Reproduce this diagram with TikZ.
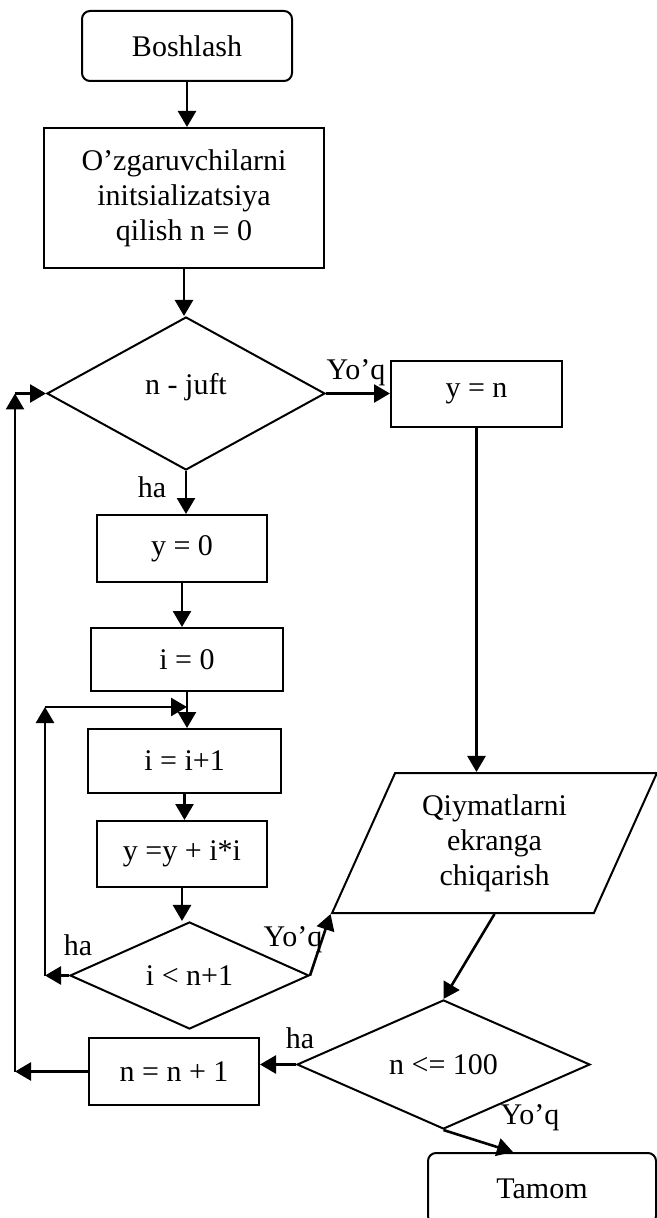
\documentclass[tikz,border=0pt]{standalone}
\usepackage{fontspec}
\setmainfont{Liberation Serif}
\usetikzlibrary{arrows.meta,positioning,calc,shapes.geometric}
\definecolor{FcInk}{RGB}{0,0,0}
\tikzset{
  fc/box/.style={
    draw=FcInk,
    line width=1pt,
    fill=white,
    align=center,
    text=FcInk,
    inner sep=0pt,
    font=\fontsize{15}{17.5}\selectfont
  },
  fc/term/.style={fc/box, rounded corners=4pt},
  fc/cond/.style={
    diamond,
    draw=FcInk,
    line width=1pt,
    fill=white,
    align=center,
    text=FcInk,
    inner sep=0pt,
    font=\fontsize{15}{17.5}\selectfont
  },
  fc/io/.style={
    trapezium,
    trapezium left angle=64.7,
    trapezium right angle=115.3,
    trapezium stretches=true,
    draw=FcInk,
    line width=1pt,
    fill=white,
    align=center,
    text=FcInk,
    inner sep=0pt,
    font=\fontsize{15}{17.5}\selectfont
  },
  fc/arrow/.style={-{Triangle[length=8pt,width=9pt]}, line width=1.3pt, draw=FcInk},
  fc/tinylabel/.style={font=\fontsize{15}{17.5}\selectfont, text=FcInk, inner sep=0pt}
}

\begin{document}
\begin{tikzpicture}[x=0.5pt,y=-0.5pt]
  \useasboundingbox (0,0) rectangle (657,1218);
  % left column
  \node[fc/term,minimum width=105pt,minimum height=35pt] (start) at (187,46) {Boshlash};
  \node[fc/box,minimum width=140pt,minimum height=70pt] (init) at (184,198) {O’zgaruvchilarni\\initsializatsiya\\qilish n = 0};
  \node[fc/cond,minimum width=139pt,minimum height=76.5pt] (even) at (186,393.5) {n - juft\\[-7.5pt]};
  \node[fc/box,minimum width=85pt,minimum height=33.5pt] (yzero) at (182,548.5) {y = 0};
  \node[fc/box,minimum width=96pt,minimum height=31.5pt] (izero) at (187,659.5) {i = 0};
  \node[fc/box,minimum width=96.5pt,minimum height=32pt] (iinc) at (184.5,761) {i = i+1};
  \node[fc/box,minimum width=85pt,minimum height=33pt] (ysum) at (182,854) {y =y + i*i};
  \node[fc/cond,minimum width=119.5pt,minimum height=47.5pt] (icheck) at (189.5,975.5) {i < n+1};
  \node[fc/box,minimum width=85pt,minimum height=33.5pt] (ninc) at (174,1071.5) {n = n + 1};
  % right column
  \node[fc/box,minimum width=85.5pt,minimum height=33pt] (ysetn) at (476.5,394) {y = n};
  \node[fc/io,minimum width=162.5pt,minimum height=70pt] (show) at (494.5,843) {Qiymatlarni\\ekranga\\chiqarish};
  \node[fc/cond,minimum width=146.5pt,minimum height=47.5pt] (ncheck) at (443.5,1064.5) {n <= 100};
  \node[fc/term,minimum width=114pt,minimum height=35.5pt] (finish) at (542,1188.5) {Tamom};

  \coordinate (outertop) at (15,393.5);
  \coordinate (outerbot) at (outertop |- ninc.west);
  \coordinate (innertop) at (45,707);
  \coordinate (innerbot) at (innertop |- icheck.west);
  \coordinate (innerjoin) at (izero.south |- innertop);

  \draw[fc/arrow] (start.south) -- (start.south |- init.north);
  \draw[fc/arrow] (init.south) -- (init.south |- even.north);
  \draw[fc/arrow] (even.east) -- (even.east -| ysetn.west);
  \draw[fc/arrow] (even.south) -- (even.south |- yzero.north);
  \draw[fc/arrow] (yzero.south) -- (yzero.south |- izero.north);
  \draw[fc/arrow] (izero.south) -- (izero.south |- iinc.north);
  \draw[fc/arrow] (iinc.south) -- (iinc.south |- ysum.north);
  \draw[fc/arrow] (ysum.south) -- (ysum.south |- icheck.north);
  \draw[fc/arrow] (icheck.west) -- (innerbot);
  \draw[fc/arrow] (innerbot) -- (innertop);
  \draw[fc/arrow] (innertop) -- (innerjoin);
  \draw[fc/arrow] (icheck.east) -- (show.bottom left corner);
  \draw[fc/arrow] (ysetn.south) -- (ysetn.south |- show.north);
  \draw[fc/arrow] (show.south) -- (ncheck.north);
  \draw[fc/arrow] (ncheck.west) -- (ncheck.west -| ninc.east);
  \draw[fc/arrow] (ninc.west) -- (outerbot);
  \draw[fc/arrow] (outerbot) -- (outertop);
  \draw[fc/arrow] (outertop) -- (even.west);
  \draw[fc/arrow] (ncheck.south) -- ($(finish.north)+(-29,0)$);

  \node[fc/tinylabel] (lblno1) at (356,373) {Yo’q};
  \node[fc/tinylabel] (lblyes1) at (152,487) {ha};
  \node[fc/tinylabel] (lblyes2) at (78,945) {ha};
  \node[fc/tinylabel] (lblno2) at (293,940) {Yo’q};
  \node[fc/tinylabel] (lblyes3) at (300,1038) {ha};
  \node[fc/tinylabel] (lblno3) at (530,1118) {Yo’q};
\end{tikzpicture}
\end{document}
